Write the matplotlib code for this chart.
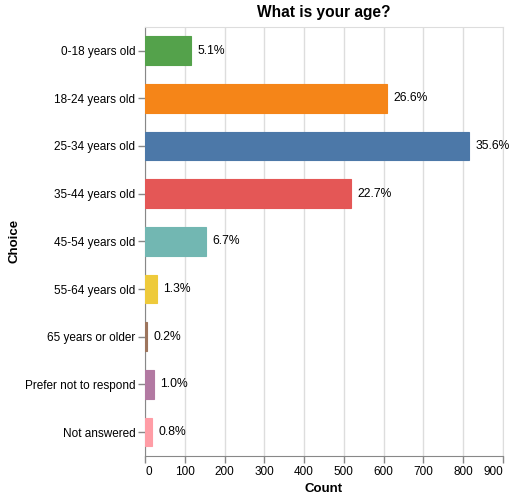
import matplotlib

matplotlib.use("Agg")
import matplotlib.pyplot as plt

plt.rcParams["font.family"] = ["Liberation Sans", "DejaVu Sans"]

choices = [
    "0-18 years old",
    "18-24 years old",
    "25-34 years old",
    "35-44 years old",
    "45-54 years old",
    "55-64 years old",
    "65 years or older",
    "Prefer not to respond",
    "Not answered",
]
counts = [116, 608, 814, 519, 153, 30, 5, 22, 18]
colors = [
    "#54a24b",
    "#f58518",
    "#4c78a8",
    "#e45756",
    "#72b7b2",
    "#eeca3b",
    "#9d755d",
    "#b279a2",
    "#ff9da6",
]
x_ticks = [0, 100, 200, 300, 400, 500, 600, 700, 800, 900]

total = sum(counts)
pct = [c / total * 100 for c in counts]

fig = plt.figure(figsize=(5.15, 5.0), dpi=100)
ax = fig.add_axes([145 / 515, 44 / 500, 358 / 515, 429.3 / 500])

ypos = list(range(len(choices)))
ax.barh(ypos, counts, height=0.6, color=colors, edgecolor=colors, linewidth=0.8, zorder=3)
for y, c, p in zip(ypos, counts, pct):
    ax.text(c + 16, y, f"{p:.1f}%", va="center", ha="left", fontsize=8.7, color="black", zorder=4)

ax.set_xlim(0, 900)
ax.set_ylim(len(choices) - 0.5, -0.5)
ax.set_yticks(ypos)
ax.set_yticklabels(choices)
ax.set_xticks(x_ticks)
ax.set_xticklabels([str(t) for t in x_ticks])
labels = ax.get_xticklabels()
labels[0].set_horizontalalignment("left")
labels[-1].set_horizontalalignment("right")

ax.grid(axis="x", color="#dddddd", linewidth=1, zorder=0)
ax.tick_params(axis="both", length=5, width=1, color="#888888", labelsize=8.5, pad=2)
for side in ["top", "right"]:
    ax.spines[side].set_color("#dddddd")
for side in ["left", "bottom"]:
    ax.spines[side].set_color("#888888")

ax.set_xlabel("Count", fontsize=9.5, fontweight="bold", labelpad=4)
ax.set_ylabel("Choice", fontsize=9.5, fontweight="bold")
ax.yaxis.set_label_coords(-125 / 358, 0.5)
ax.set_title("What is your age?", fontsize=11.2, fontweight="bold", pad=7)

fig.savefig("out.png", dpi=100)
